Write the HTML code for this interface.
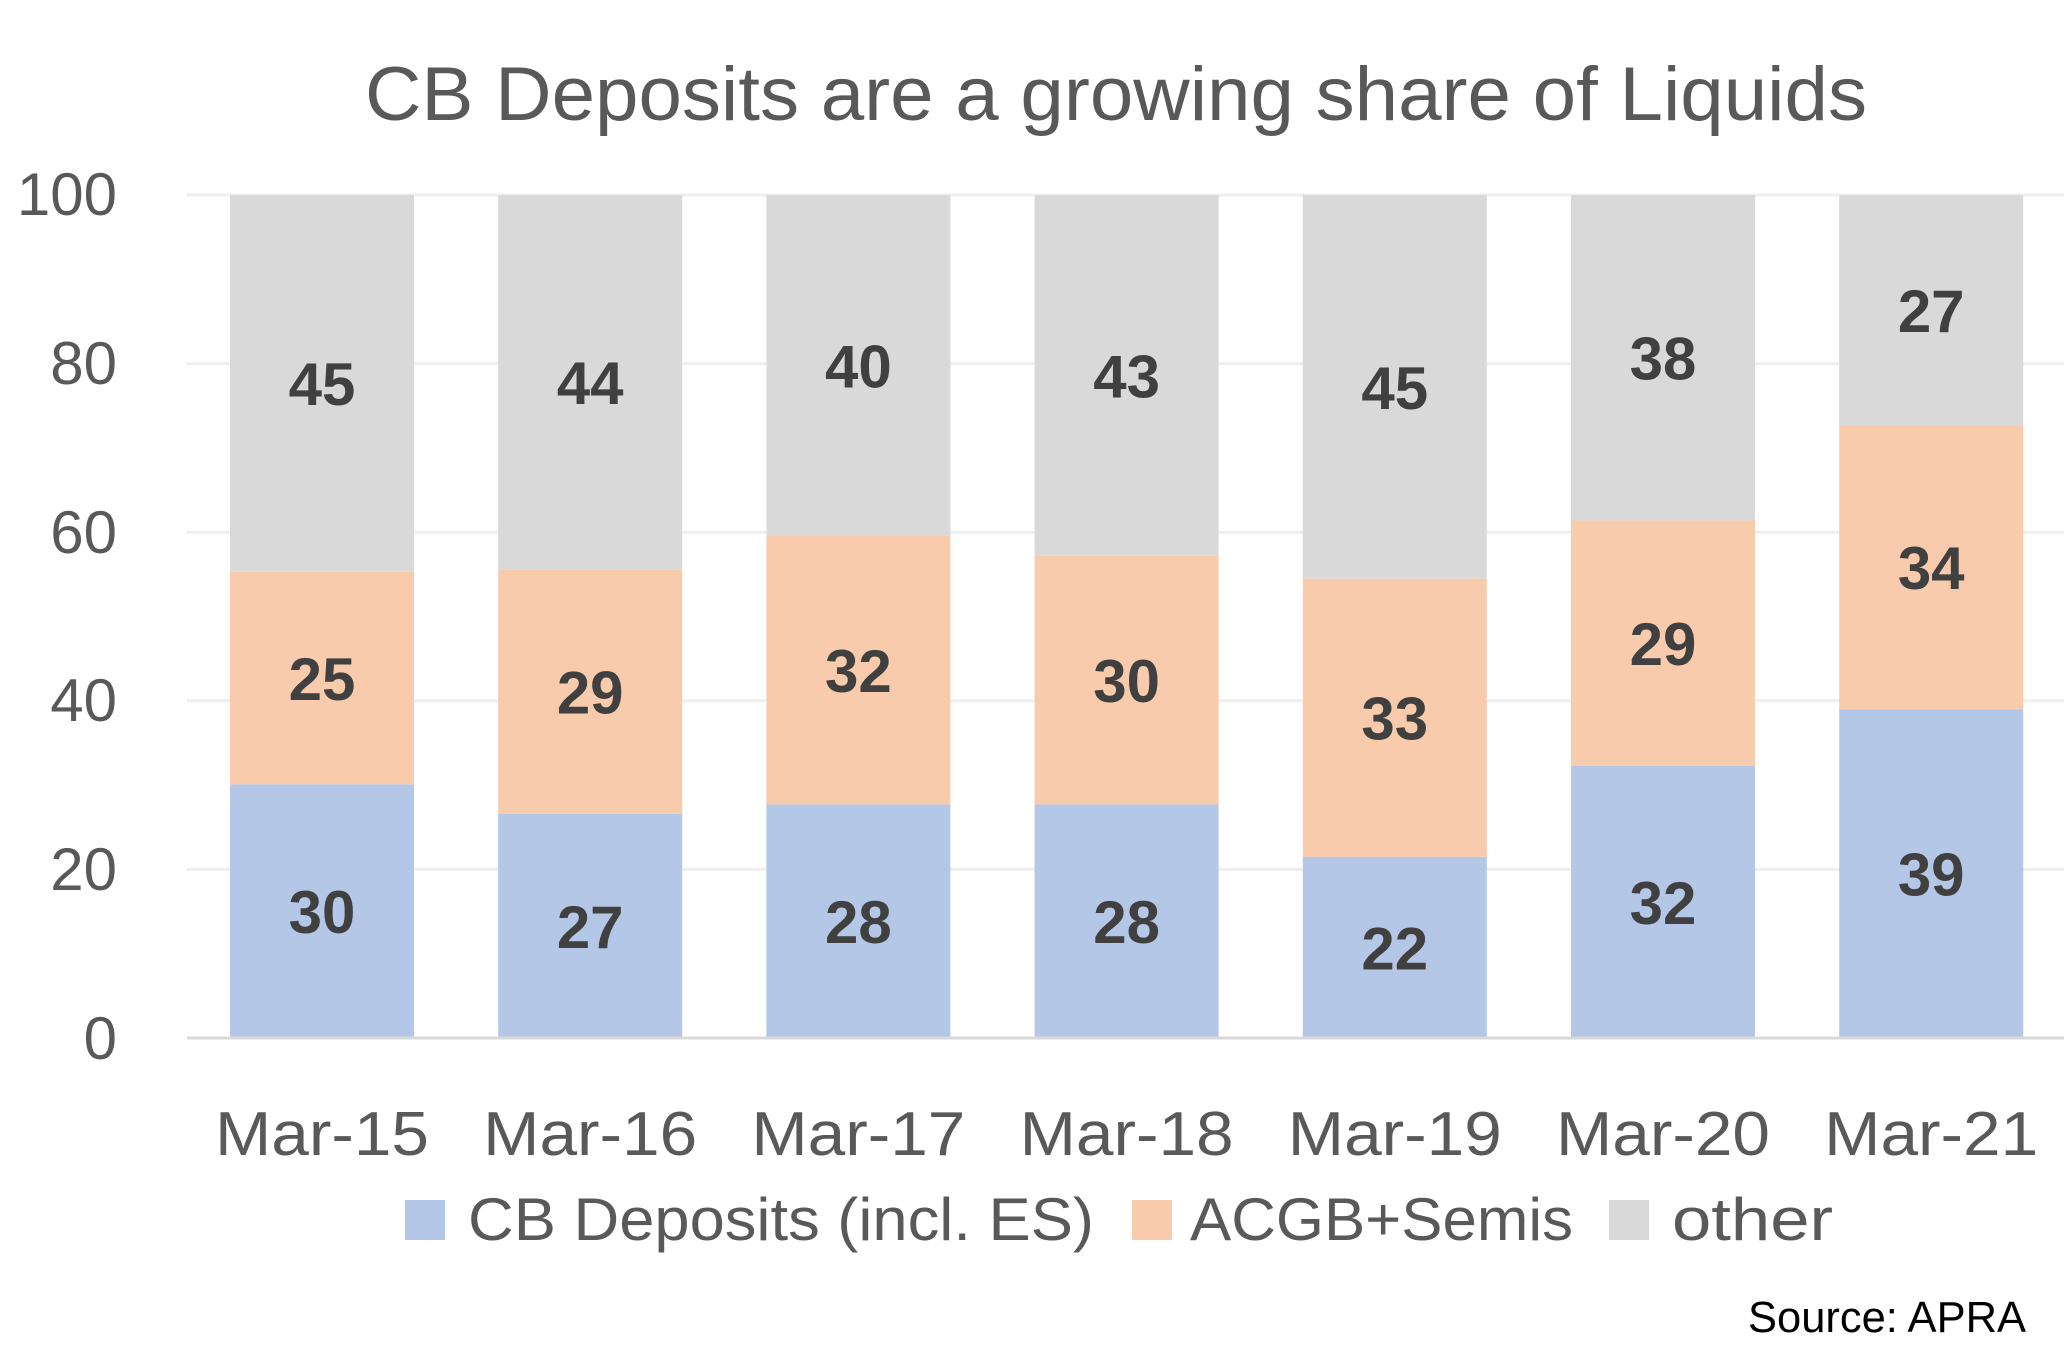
<!DOCTYPE html>
<html><head><meta charset="utf-8"><style>html,body{margin:0;padding:0;background:#fff}svg{display:block}</style></head>
<body>
<svg width="2068" height="1359" viewBox="0 0 2068 1359" xmlns="http://www.w3.org/2000/svg" font-family="Liberation Sans, sans-serif">
<text x="365" y="120" font-size="76" fill="#595959" textLength="1502" lengthAdjust="spacingAndGlyphs">CB Deposits are a growing share of Liquids</text>
<g stroke="#efefef" stroke-width="3">
<line x1="187" x2="2064" y1="195" y2="195"/><line x1="187" x2="2064" y1="363.6" y2="363.6"/><line x1="187" x2="2064" y1="532.2" y2="532.2"/><line x1="187" x2="2064" y1="700.8" y2="700.8"/><line x1="187" x2="2064" y1="869.4" y2="869.4"/>
</g>
<g font-size="60" fill="#595959" text-anchor="end">
<text x="117" y="215">100</text><text x="117" y="384">80</text><text x="117" y="553">60</text><text x="117" y="721">40</text><text x="117" y="890">20</text><text x="117" y="1059">0</text>
</g>
<g>
<rect x="230" y="784.3" width="184" height="253.7" fill="#b4c7e7"/><rect x="230" y="571.8" width="184" height="212.5" fill="#f8cbad"/><rect x="230" y="195" width="184" height="376.8" fill="#d9d9d9"/>
<rect x="498.2" y="813.8" width="184" height="224.2" fill="#b4c7e7"/><rect x="498.2" y="569.3" width="184" height="244.5" fill="#f8cbad"/><rect x="498.2" y="195" width="184" height="374.3" fill="#d9d9d9"/>
<rect x="766.4" y="804.5" width="184" height="233.5" fill="#b4c7e7"/><rect x="766.4" y="535.6" width="184" height="268.9" fill="#f8cbad"/><rect x="766.4" y="195" width="184" height="340.6" fill="#d9d9d9"/>
<rect x="1034.6" y="804.5" width="184" height="233.5" fill="#b4c7e7"/><rect x="1034.6" y="555.8" width="184" height="248.7" fill="#f8cbad"/><rect x="1034.6" y="195" width="184" height="360.8" fill="#d9d9d9"/>
<rect x="1302.8" y="856.8" width="184" height="181.2" fill="#b4c7e7"/><rect x="1302.8" y="578.6" width="184" height="278.2" fill="#f8cbad"/><rect x="1302.8" y="195" width="184" height="383.6" fill="#d9d9d9"/>
<rect x="1571" y="765.7" width="184" height="272.3" fill="#b4c7e7"/><rect x="1571" y="520.4" width="184" height="245.3" fill="#f8cbad"/><rect x="1571" y="195" width="184" height="325.4" fill="#d9d9d9"/>
<rect x="1839.2" y="709.2" width="184" height="328.8" fill="#b4c7e7"/><rect x="1839.2" y="425.1" width="184" height="284.1" fill="#f8cbad"/><rect x="1839.2" y="195" width="184" height="230.1" fill="#d9d9d9"/>
</g>
<g font-size="60" font-weight="bold" fill="#404040" text-anchor="middle">
<text x="322" y="933">30</text><text x="322" y="700">25</text><text x="322" y="405">45</text>
<text x="590.2" y="948">27</text><text x="590.2" y="713.5">29</text><text x="590.2" y="404">44</text>
<text x="858.4" y="943.2">28</text><text x="858.4" y="692">32</text><text x="858.4" y="387.3">40</text>
<text x="1126.6" y="943.2">28</text><text x="1126.6" y="702.1">30</text><text x="1126.6" y="397.4">43</text>
<text x="1394.8" y="969.4">22</text><text x="1394.8" y="739.7">33</text><text x="1394.8" y="408.8">45</text>
<text x="1663" y="923.9">32</text><text x="1663" y="665.1">29</text><text x="1663" y="379.7">38</text>
<text x="1931.2" y="895.6">39</text><text x="1931.2" y="589.2">34</text><text x="1931.2" y="332.1">27</text>
</g>
<line x1="187" x2="2064" y1="1038" y2="1038" stroke="#d9d9d9" stroke-width="3"/>
<g font-size="62" fill="#595959" text-anchor="middle">
<text x="322" y="1155" textLength="214" lengthAdjust="spacingAndGlyphs">Mar-15</text><text x="590.2" y="1155" textLength="214" lengthAdjust="spacingAndGlyphs">Mar-16</text><text x="858.4" y="1155" textLength="214" lengthAdjust="spacingAndGlyphs">Mar-17</text><text x="1126.6" y="1155" textLength="214" lengthAdjust="spacingAndGlyphs">Mar-18</text><text x="1394.8" y="1155" textLength="214" lengthAdjust="spacingAndGlyphs">Mar-19</text><text x="1663" y="1155" textLength="214" lengthAdjust="spacingAndGlyphs">Mar-20</text><text x="1931.2" y="1155" textLength="214" lengthAdjust="spacingAndGlyphs">Mar-21</text>
</g>
<rect x="405" y="1200" width="40" height="40" fill="#b4c7e7"/>
<text x="468" y="1240" font-size="60" fill="#595959" textLength="626" lengthAdjust="spacingAndGlyphs">CB Deposits (incl. ES)</text>
<rect x="1132" y="1200" width="40" height="40" fill="#f8cbad"/>
<text x="1190" y="1240" font-size="60" fill="#595959" textLength="383" lengthAdjust="spacingAndGlyphs">ACGB+Semis</text>
<rect x="1609" y="1200" width="40" height="40" fill="#d9d9d9"/>
<text x="1672" y="1240" font-size="60" fill="#595959" textLength="161" lengthAdjust="spacingAndGlyphs">other</text>
<text x="1748" y="1332" font-size="44" fill="#000" textLength="278" lengthAdjust="spacingAndGlyphs">Source: APRA</text>
</svg>
</body></html>
